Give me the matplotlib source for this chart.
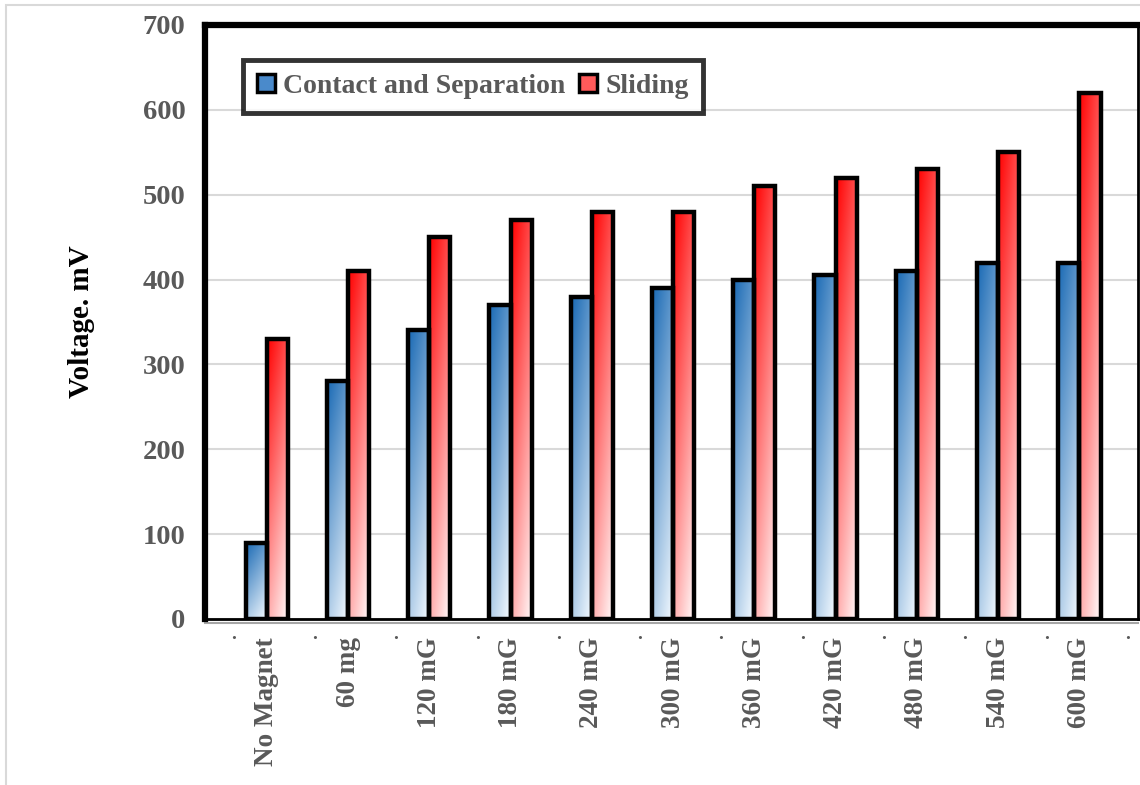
import numpy as np
import matplotlib
matplotlib.use("Agg")
import matplotlib.pyplot as plt
from matplotlib.patches import Patch
from matplotlib import transforms

# data
categories = ["No Magnet", "60 mg", "120 mG", "180 mG", "240 mG", "300 mG",
              "360 mG", "420 mG", "480 mG", "540 mG", "600 mG"]
contact_sep = [90, 280, 340, 370, 380, 390, 400, 405, 410, 420, 420]
sliding = [330, 410, 450, 470, 480, 480, 510, 520, 530, 550, 620]
series_names = ["Contact and Separation", "Sliding"]
yticks = [0, 100, 200, 300, 400, 500, 600, 700]

plt.rcParams['font.family'] = ['Liberation Serif', 'DejaVu Serif']
plt.rcParams['font.weight'] = 'bold'
GRAY_TXT = '#595959'

# gradient colours (top-left dark -> bottom-right light)
blue_dark, blue_light = np.array([25, 105, 180]) / 255, np.array([232, 242, 251]) / 255
red_dark, red_light = np.array([255, 0, 0]) / 255, np.array([255, 236, 236]) / 255


def gradient_img(dark, light, n=64):
    u = np.linspace(0, 1, n)[None, :]
    v = np.linspace(1, 0, n)[:, None]  # row 0 = top
    t = np.clip(0.72 * (1 - v) + 0.35 * u, 0, 1)
    return dark[None, None, :] * (1 - t[..., None]) + light[None, None, :] * t[..., None]


def fill_bars(ax, bars, dark, light):
    img = gradient_img(dark, light)
    for b in bars:
        x0, y0 = b.get_x(), b.get_y()
        w, h = b.get_width(), b.get_height()
        im = ax.imshow(img, extent=(x0, x0 + w, y0, y0 + h), aspect='auto',
                       origin='upper', zorder=2, interpolation='bilinear')
        im.set_clip_path(b)


fig = plt.figure(figsize=(11.4, 7.85), dpi=100)
# light chart-area frame
fig.patches.append(plt.Rectangle((0.005, -0.01), 1.2, 1.0037, transform=fig.transFigure,
                                 fill=False, edgecolor='#D9D9D9', lw=1.5))
ax = fig.add_axes([0.1798, 0.2115, 0.9982 - 0.1798, 0.9682 - 0.2115])

x = np.arange(len(categories))
bw = 0.26
b1 = ax.bar(x - bw / 2, contact_sep, bw, facecolor='none', edgecolor='black', lw=3.2, zorder=3)
b2 = ax.bar(x + bw / 2, sliding, bw, facecolor='none', edgecolor='black', lw=3.2, zorder=3)
fill_bars(ax, b1, blue_dark, blue_light)
fill_bars(ax, b2, red_dark, red_light)

ax.set_xlim(-0.76, len(categories) - 1 + 0.72)
ax.set_ylim(0, 700)
ax.set_yticks(yticks)
ax.yaxis.grid(True, color='#D9D9D9', lw=1.5, zorder=0)
ax.set_axisbelow(True)
ax.tick_params(axis='y', length=0, pad=14, labelsize=20.5, labelcolor=GRAY_TXT)
ax.set_xticks(x)
ax.set_xticklabels(categories, rotation=90, va='top', ha='center')
ax.tick_params(axis='x', length=0, pad=13, labelsize=19.5, labelcolor=GRAY_TXT)

ax.spines['left'].set_linewidth(4.5)
ax.spines['top'].set_linewidth(4.5)
ax.spines['right'].set_linewidth(2)
ax.spines['bottom'].set_linewidth(2)
ax.plot([0, 1], [-0.006, -0.006], transform=ax.transAxes, clip_on=False,
        color='#A6A6A6', lw=1.5)

# small separator dots under the axis
trans = transforms.blended_transform_factory(ax.transData, ax.transAxes)
for i in range(len(categories) + 1):
    ax.text(i - 0.41, -0.04, '.', transform=trans, ha='center', va='bottom',
            fontsize=14, color=GRAY_TXT)

ax.set_ylabel("Voltage. mV", fontsize=21, fontweight='bold', color='black', labelpad=34)

handles = [Patch(facecolor='#4A8ACB', edgecolor='black', lw=2.5),
           Patch(facecolor='#FF5A5A', edgecolor='black', lw=2.5)]
leg = ax.legend(handles, series_names, loc='upper left', bbox_to_anchor=(0.0405, 0.941),
                ncol=2, fontsize=20, frameon=True, fancybox=False, borderaxespad=0,
                handlelength=0.65, handleheight=0.65, handletextpad=0.3,
                columnspacing=0.5, borderpad=0.5, labelcolor=GRAY_TXT)
leg.get_frame().set_edgecolor('black')
leg.get_frame().set_linewidth(3.5)
leg.set_zorder(5)

fig.savefig("out.png", dpi=100)
